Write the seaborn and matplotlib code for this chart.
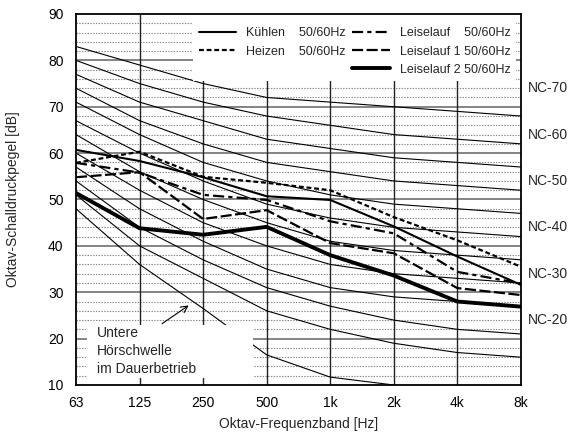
import numpy as np
import pandas as pd
import seaborn as sns
import matplotlib.pyplot as plt
import matplotlib.transforms as mtransforms
from matplotlib.patches import Rectangle
from matplotlib.lines import Line2D

# octave bands (x categories)
bands = ['63', '125', '250', '500', '1k', '2k', '4k', '8k']

# NC reference curves
nc_20 = [51, 40, 33, 26, 22, 19, 17, 16]
nc_25 = [54, 44, 37, 31, 27, 24, 22, 21]
nc_30 = [57, 48, 41, 35, 31, 29, 28, 27]
nc_35 = [60, 52, 45, 40, 36, 34, 33, 32]
nc_40 = [64, 56, 50, 45, 41, 39, 38, 37]
nc_45 = [67, 60, 54, 49, 46, 44, 43, 42]
nc_50 = [71, 64, 58, 54, 51, 49, 48, 47]
nc_55 = [74, 67, 62, 58, 56, 54, 53, 52]
nc_60 = [77, 71, 67, 63, 61, 59, 58, 57]
nc_65 = [80, 75, 71, 68, 66, 64, 63, 62]
nc_70 = [83, 79, 75, 72, 71, 70, 69, 68]
nc_labels = [20, 30, 40, 50, 60, 70]

# lower hearing threshold (continuous operation)
threshold = [48, 36, 26.5, 16.5, 11.7, 10, 8, 8]

# measured unit spectra
kuehlen = [60.7, 58.3, 54.8, 50.7, 49.9, 44.2, 37.7, 31.6]
heizen = [57.9, 60.3, 54.9, 53.6, 52.0, 46.2, 41.2, 35.5]
leiselauf = [57.9, 55.8, 51.0, 49.9, 45.3, 42.7, 34.4, 31.9]
leiselauf_1 = [54.8, 55.9, 45.8, 47.7, 40.6, 38.4, 30.9, 29.4]
leiselauf_2 = [51.4, 43.8, 42.4, 44.1, 38.0, 33.6, 28.0, 26.9]

sns.set_theme(style='white')
plt.rcParams['font.family'] = ['Liberation Sans', 'DejaVu Sans']
plt.rcParams['lines.scale_dashes'] = False

pos = np.arange(len(bands))
fig, ax = plt.subplots(figsize=(5.73, 4.32), dpi=100)
fig.subplots_adjust(left=0.1326, right=0.909, bottom=0.1088, top=0.9676)

# thin NC curves + threshold
for curve in [nc_20, nc_25, nc_30, nc_35, nc_40, nc_45, nc_50, nc_55,
              nc_60, nc_65, nc_70, threshold]:
    sns.lineplot(x=pos, y=curve, ax=ax, color='black', lw=0.8, zorder=2)

lbl_k = 'Kühlen    50/60Hz'
lbl_h = 'Heizen    50/60Hz'
lbl_l = 'Leiselauf    50/60Hz'
lbl_l1 = 'Leiselauf 1 50/60Hz'
lbl_l2 = 'Leiselauf 2 50/60Hz'

series = [
    (lbl_k, kuehlen, '-', 1.5),
    (lbl_h, heizen, (0, (3.5, 2)), 1.6),
    (lbl_l, leiselauf, (0, (8, 3, 3, 3)), 1.6),
    (lbl_l1, leiselauf_1, (0, (8, 2.5)), 1.6),
    (lbl_l2, leiselauf_2, '-', 2.8),
]
handles = {}
for name, vals, ls, lw in series:
    sns.lineplot(x=pos, y=vals, ax=ax, color='black', lw=lw, linestyle=ls, zorder=2.5)
    handles[name] = Line2D([], [], color='black', lw=lw, linestyle=ls)

ax.set_xlim(0, 7)
ax.set_ylim(10, 90)
ax.set_xticks(pos)
ax.set_xticklabels(bands)
ax.set_yticks(np.arange(10, 91, 10))
ax.tick_params(axis='both', which='both', length=0, labelsize=10, colors='black')
ax.tick_params(axis='y', pad=9)
ax.tick_params(axis='x', pad=8)

ax.grid(False)
for y in np.arange(12, 90, 2):
    if y % 10:
        ax.axhline(y, color='#888888', lw=0.8, ls=(0, (1, 1)), zorder=0.5)
for y in np.arange(20, 90, 10):
    ax.axhline(y, color='#707070', lw=1.2, zorder=0.6)
for x in pos[1:-1]:
    ax.axvline(x, color='#222222', lw=1.0, zorder=0.7)

for sp in ax.spines.values():
    sp.set_color('black')
    sp.set_linewidth(1.3)
    sp.set_zorder(6)

ax.set_xlabel('Oktav-Frequenzband [Hz]', fontsize=10, labelpad=5)
ax.set_ylabel('Oktav-Schalldruckpegel [dB]', fontsize=10)
ax.yaxis.set_label_coords(-0.125, 0.5)

# white boxes behind legend and threshold note
ax.add_patch(Rectangle((1.84, 75.6), 5.08, 14.4, facecolor='white', edgecolor='none', zorder=3))
ax.add_patch(Rectangle((0.17, 11.5), 2.61, 11.4, facecolor='white', edgecolor='none', zorder=3))

blank = Line2D([], [], color='none')
order = [lbl_k, lbl_h, None, lbl_l, lbl_l1, lbl_l2]
leg = ax.legend([handles[n] if n else blank for n in order],
                [n if n else '' for n in order],
                ncol=2, loc='upper left', bbox_to_anchor=(0.276, 0.964),
                frameon=False, borderpad=0, borderaxespad=0, fontsize=9,
                handlelength=3.0, handletextpad=0.8, columnspacing=0.5,
                labelspacing=0.5)
leg.set_zorder(5)

trans = mtransforms.blended_transform_factory(ax.transAxes, ax.transData)
for lvl in nc_labels:
    ax.text(1.016, lvl + 4, f'NC-{lvl}', transform=trans, ha='left', va='center',
            fontsize=10, clip_on=False)

ax.text(0.33, 22.7, 'Untere\nHörschwelle\nim Dauerbetrieb', ha='left', va='top',
        fontsize=10, linespacing=1.35, zorder=5)
ax.annotate('', xy=(1.81, 27.5), xytext=(1.32, 22.9),
            arrowprops=dict(arrowstyle='->', lw=0.8, color='black'), zorder=5)

fig.savefig('out.png', dpi=100)
